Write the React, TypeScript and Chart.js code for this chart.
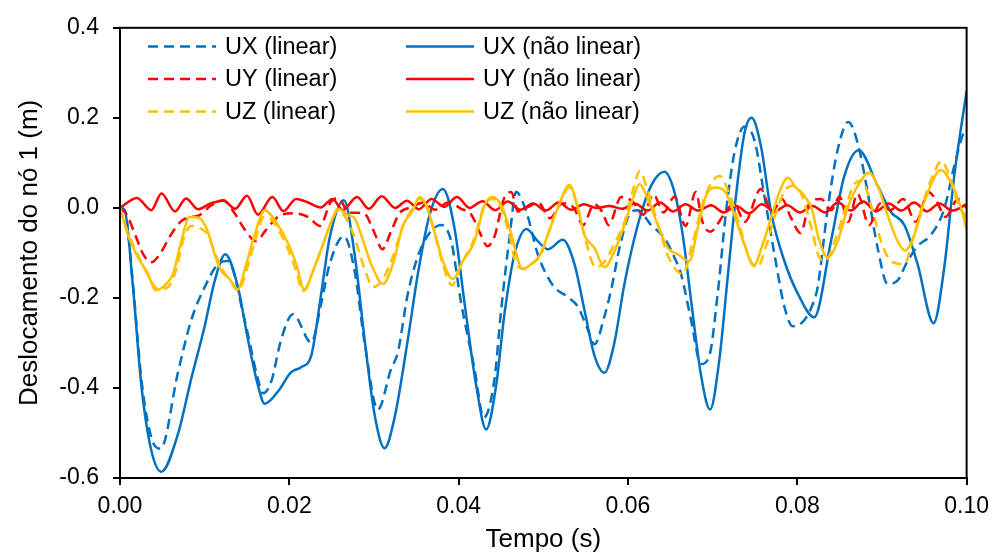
import React, { useEffect, useRef } from 'react';
import { Chart, registerables } from 'chart.js';

Chart.register(...registerables);

// Tempo (s) / deslocamento (m) — UX linear
const uxLinT = [0, 0.00055, 0.00153, 0.00252, 0.0037, 0.0048, 0.00685, 0.00842, 0.01, 0.01157, 0.01275, 0.01472, 0.01629, 0.01688, 0.01786, 0.01904, 0.02043, 0.02259, 0.02377, 0.02476, 0.02645, 0.02771, 0.02889, 0.03046, 0.03203, 0.03282, 0.034, 0.03557, 0.03794, 0.03912, 0.0403, 0.04187, 0.04297, 0.04424, 0.04502, 0.046, 0.04679, 0.048, 0.04935, 0.05112, 0.05289, 0.05407, 0.05525, 0.05604, 0.05722, 0.058, 0.05918, 0.06037, 0.06116, 0.06273, 0.0643, 0.06549, 0.06627, 0.06745, 0.06863, 0.06962, 0.0706, 0.07158, 0.07257, 0.07375, 0.07493, 0.07611, 0.0773, 0.07847, 0.07946, 0.08084, 0.082, 0.08241, 0.08359, 0.08477, 0.08603, 0.08713, 0.08831, 0.08949, 0.09067, 0.09185, 0.09303, 0.09421, 0.09579, 0.09736, 0.09854, 0.0997, 0.1];
const uxLinV = [0, -0.005, -0.17, -0.38, -0.51, -0.535, -0.365, -0.249, -0.176, -0.125, -0.118, -0.249, -0.38, -0.412, -0.386, -0.292, -0.236, -0.299, -0.212, -0.125, -0.063, -0.14, -0.299, -0.448, -0.357, -0.321, -0.19, -0.089, -0.038, -0.074, -0.212, -0.357, -0.466, -0.379, -0.227, -0.067, 0.035, -0.009, -0.103, -0.172, -0.198, -0.219, -0.27, -0.303, -0.241, -0.183, -0.074, -0.009, -0.005, -0.038, -0.067, -0.11, -0.147, -0.249, -0.347, -0.328, -0.19, -0.009, 0.122, 0.18, 0.151, 0.027, -0.103, -0.219, -0.263, -0.249, -0.205, -0.176, -0.002, 0.129, 0.191, 0.144, 0.035, -0.089, -0.169, -0.161, -0.118, -0.085, -0.06, -0.002, 0.093, 0.169, 0.173];

// UX não linear
const uxNlT = [0, 0.00055, 0.00153, 0.00252, 0.0037, 0.00488, 0.00685, 0.00842, 0.01, 0.0112, 0.01243, 0.01393, 0.01511, 0.01629, 0.01708, 0.01865, 0.02022, 0.0214, 0.02259, 0.02377, 0.02476, 0.02645, 0.02771, 0.02889, 0.03007, 0.03125, 0.03243, 0.034, 0.03518, 0.03656, 0.03813, 0.03951, 0.0407, 0.04207, 0.04325, 0.04443, 0.04542, 0.0466, 0.048, 0.04935, 0.05053, 0.0523, 0.05368, 0.05486, 0.05604, 0.05722, 0.0584, 0.05958, 0.06116, 0.06273, 0.0643, 0.06549, 0.06647, 0.06745, 0.06863, 0.0697, 0.0708, 0.07178, 0.07276, 0.07375, 0.0746, 0.07572, 0.0769, 0.07847, 0.08005, 0.082, 0.08398, 0.08556, 0.08725, 0.08949, 0.09106, 0.09264, 0.09421, 0.0961, 0.09736, 0.09854, 0.1];
const uxNlV = [0, -0.005, -0.175, -0.394, -0.539, -0.586, -0.502, -0.379, -0.263, -0.161, -0.103, -0.176, -0.292, -0.394, -0.435, -0.408, -0.365, -0.354, -0.328, -0.19, -0.067, 0.017, -0.103, -0.292, -0.459, -0.534, -0.466, -0.292, -0.147, -0.016, 0.042, -0.045, -0.212, -0.394, -0.492, -0.394, -0.234, -0.103, -0.047, -0.074, -0.092, -0.071, -0.125, -0.227, -0.328, -0.366, -0.299, -0.169, -0.038, 0.049, 0.08, 0.035, -0.06, -0.205, -0.372, -0.448, -0.336, -0.154, 0.027, 0.165, 0.2, 0.136, -0.009, -0.118, -0.19, -0.243, -0.074, 0.071, 0.128, 0.049, -0.009, -0.038, -0.125, -0.256, -0.132, 0.071, 0.26];

// UY linear
const uyLinT = [0, 0.0008, 0.0018, 0.0028, 0.0037, 0.0048, 0.006, 0.0072, 0.008, 0.0094, 0.0108, 0.0122, 0.0134, 0.0148, 0.0161, 0.0172, 0.0188, 0.0205, 0.0222, 0.0236, 0.0249, 0.0258, 0.027, 0.0288, 0.03, 0.031, 0.032, 0.033, 0.0345, 0.0358, 0.0372, 0.0388, 0.0403, 0.0415, 0.0425, 0.0434, 0.0443, 0.0448, 0.0453, 0.0462, 0.047, 0.0482, 0.0494, 0.0508, 0.0522, 0.0536, 0.0547, 0.056, 0.057, 0.0577, 0.0592, 0.0605, 0.0618, 0.063, 0.0642, 0.0655, 0.0668, 0.068, 0.0688, 0.0697, 0.0713, 0.0725, 0.0738, 0.0757, 0.077, 0.0782, 0.0792, 0.0804, 0.0815, 0.0828, 0.084, 0.085, 0.086, 0.0871, 0.0885, 0.0898, 0.091, 0.0925, 0.094, 0.0955, 0.0965, 0.0975, 0.099, 0.1];
const uyLinV = [0, -0.015, -0.06, -0.105, -0.121, -0.1, -0.06, -0.03, -0.022, -0.016, 0.006, 0.017, -0.008, -0.05, -0.074, -0.05, -0.018, -0.012, -0.02, -0.04, 0.013, 0.022, -0.01, -0.012, -0.053, -0.092, -0.053, -0.012, 0.002, 0.012, -0.004, 0.012, -0.002, -0.015, -0.055, -0.085, -0.06, -0.02, 0.018, 0.035, -0.008, 0.002, 0.012, -0.023, 0.01, 0, -0.038, 0.008, -0.01, -0.038, 0.024, 0.015, -0.015, 0.03, -0.01, 0.025, -0.04, 0.035, -0.031, -0.053, -0.016, 0.01, -0.031, 0.042, -0.01, 0.02, -0.02, -0.056, 0.013, 0.02, -0.005, 0.025, -0.031, 0.031, -0.038, 0.01, -0.005, 0.02, -0.031, 0.035, 0.013, -0.02, 0.02, 0];

// UY não linear
const uyNlT = [0, 0.002, 0.0037, 0.0049, 0.0065, 0.0078, 0.0092, 0.0107, 0.0122, 0.0136, 0.015, 0.0163, 0.018, 0.0193, 0.0208, 0.0222, 0.0237, 0.0251, 0.0263, 0.028, 0.0294, 0.0309, 0.0325, 0.0339, 0.0353, 0.0368, 0.0383, 0.0398, 0.0413, 0.0428, 0.0443, 0.0458, 0.0473, 0.0488, 0.0503, 0.0518, 0.0533, 0.0548, 0.0563, 0.0578, 0.0593, 0.0608, 0.0623, 0.0638, 0.0653, 0.0668, 0.0683, 0.0698, 0.0713, 0.0728, 0.0743, 0.0758, 0.0773, 0.0788, 0.0803, 0.0818, 0.0833, 0.0848, 0.0863, 0.0878, 0.0893, 0.0908, 0.0923, 0.0938, 0.0953, 0.0968, 0.0983, 0.1];
const uyNlV = [0, 0.022, -0.005, 0.032, -0.008, 0.021, -0.003, 0.01, 0.016, -0.002, 0.027, -0.015, 0.024, -0.007, 0.02, 0.012, 0.001, 0.02, -0.005, 0.024, -0.002, 0.026, 0, 0.016, -0.003, 0.02, 0.002, 0.024, 0, 0.015, -0.005, 0.014, -0.004, 0.01, -0.006, 0.012, -0.004, 0.008, 0, 0.004, -0.002, 0.01, -0.006, 0.012, -0.008, 0.008, -0.006, 0.006, -0.01, 0.004, -0.012, 0.008, -0.008, 0.006, -0.01, 0.004, -0.01, 0.012, -0.006, 0.014, -0.008, 0.01, -0.006, 0.012, -0.008, 0.01, -0.006, 0.008];

// UZ linear
const uzLinT = [0, 0.00094, 0.00213, 0.00331, 0.0045, 0.0055, 0.0066, 0.0075, 0.0084, 0.0094, 0.0104, 0.0112, 0.0122, 0.0132, 0.014, 0.015, 0.016, 0.017, 0.0178, 0.0186, 0.0198, 0.0208, 0.0216, 0.0226, 0.024, 0.025, 0.0257, 0.0266, 0.0276, 0.0288, 0.0299, 0.031, 0.0322, 0.0334, 0.0346, 0.0354, 0.0362, 0.0372, 0.0382, 0.0392, 0.0403, 0.0418, 0.043, 0.044, 0.045, 0.046, 0.0468, 0.0478, 0.0486, 0.0497, 0.0506, 0.0518, 0.0531, 0.0541, 0.0549, 0.0562, 0.0572, 0.0584, 0.0596, 0.0606, 0.0614, 0.0623, 0.0636, 0.0648, 0.0665, 0.0676, 0.069, 0.0708, 0.072, 0.0732, 0.0743, 0.0753, 0.0763, 0.0775, 0.0786, 0.0795, 0.0805, 0.0816, 0.0826, 0.0833, 0.0845, 0.0857, 0.0866, 0.0876, 0.0888, 0.09, 0.0912, 0.0926, 0.0938, 0.095, 0.0962, 0.097, 0.098, 0.099, 0.1];
const uzLinV = [0, -0.055, -0.105, -0.15, -0.18, -0.178, -0.14, -0.07, -0.04, -0.045, -0.06, -0.1, -0.14, -0.165, -0.183, -0.135, -0.07, -0.02, -0.025, -0.045, -0.09, -0.14, -0.185, -0.15, -0.08, -0.03, -0.005, -0.02, -0.06, -0.13, -0.176, -0.16, -0.11, -0.04, 0, 0.02, 0.005, -0.06, -0.13, -0.172, -0.125, -0.07, 0.005, 0.02, 0, -0.06, -0.125, -0.135, -0.125, -0.105, -0.055, 0.005, 0.045, 0, -0.065, -0.132, -0.12, -0.08, -0.03, 0.04, 0.082, 0.04, -0.04, -0.11, -0.147, -0.08, 0.02, 0.071, 0.03, -0.04, -0.11, -0.132, -0.085, -0.01, 0.04, 0.049, 0.03, -0.04, -0.11, -0.118, -0.07, 0, 0.049, 0.06, 0, -0.08, -0.12, -0.125, -0.06, 0.02, 0.08, 0.104, 0.07, 0.01, -0.023];

// UZ não linear
const uzNlT = [0, 0.00094, 0.00213, 0.00331, 0.00417, 0.00528, 0.00626, 0.00724, 0.00823, 0.0094, 0.01039, 0.01118, 0.01196, 0.01295, 0.01385, 0.01491, 0.0159, 0.01708, 0.01865, 0.01983, 0.02082, 0.0218, 0.02279, 0.02397, 0.02495, 0.02574, 0.02692, 0.02771, 0.02849, 0.02967, 0.03105, 0.03223, 0.03341, 0.03459, 0.03538, 0.03616, 0.03715, 0.03813, 0.03932, 0.0405, 0.04188, 0.04306, 0.04404, 0.04502, 0.04601, 0.04758, 0.04856, 0.0495, 0.05053, 0.05171, 0.05309, 0.05407, 0.05486, 0.05604, 0.05722, 0.0584, 0.05958, 0.06057, 0.06136, 0.06234, 0.06352, 0.0647, 0.06588, 0.06726, 0.06824, 0.06922, 0.07021, 0.07139, 0.07257, 0.07375, 0.07485, 0.07591, 0.07689, 0.07789, 0.07887, 0.07984, 0.08084, 0.08182, 0.08241, 0.08359, 0.08477, 0.08595, 0.08693, 0.08851, 0.08949, 0.09067, 0.09185, 0.09272, 0.09382, 0.095, 0.09697, 0.09815, 0.09933, 0.1];
const uzNlV = [0, -0.06, -0.11, -0.147, -0.183, -0.172, -0.147, -0.074, -0.02, -0.023, -0.053, -0.103, -0.14, -0.158, -0.183, -0.125, -0.06, -0.005, -0.038, -0.078, -0.125, -0.183, -0.14, -0.081, -0.031, -0.002, -0.016, -0.023, -0.06, -0.125, -0.169, -0.125, -0.04, -0.005, 0.024, 0.006, -0.053, -0.118, -0.158, -0.118, -0.074, 0.006, 0.024, 0.006, -0.045, -0.136, -0.125, -0.108, -0.06, 0, 0.051, 0, -0.06, -0.089, -0.132, -0.096, -0.038, 0.02, 0.053, 0.02, -0.038, -0.089, -0.103, -0.118, -0.045, 0.027, 0.045, 0.038, -0.016, -0.081, -0.129, -0.081, -0.023, 0.035, 0.067, 0.045, 0.027, -0.009, -0.06, -0.11, -0.074, 0, 0.042, 0.078, 0.049, -0.016, -0.074, -0.095, -0.06, 0.013, 0.084, 0.056, 0, -0.049];

const BLUE = '#0070C0';
const RED = '#FF0000';
const GOLD = '#FFC000';
const DASH = [10, 6];
const FONT = 'Arial, "Liberation Sans", sans-serif';

const toPoints = (t: number[], v: number[]) => t.map((x, i) => ({ x, y: v[i] }));

const series = [
  { label: 'UX (linear)', t: uxLinT, v: uxLinV, color: BLUE, dashed: true },
  { label: 'UX (não linear)', t: uxNlT, v: uxNlV, color: BLUE, dashed: false },
  { label: 'UY (linear)', t: uyLinT, v: uyLinV, color: RED, dashed: true },
  { label: 'UY (não linear)', t: uyNlT, v: uyNlV, color: RED, dashed: false },
  { label: 'UZ (linear)', t: uzLinT, v: uzLinV, color: GOLD, dashed: true },
  { label: 'UZ (não linear)', t: uzNlT, v: uzNlV, color: GOLD, dashed: false },
];

// Two-column legend drawn inside the plot area
const gridLegend = {
  id: 'gridLegend',
  afterDraw(chart: any) {
    const ctx = chart.ctx;
    const colX = [148, 406];
    const rowY = [46.5, 79, 111.5];
    ctx.save();
    chart.data.datasets.forEach((ds: any, i: number) => {
      const col = i % 2;
      const row = Math.floor(i / 2);
      const x0 = colX[col];
      const y = rowY[row];
      ctx.beginPath();
      ctx.strokeStyle = ds.borderColor;
      ctx.lineWidth = ds.borderWidth;
      ctx.setLineDash(ds.borderDash || []);
      ctx.moveTo(x0, y);
      ctx.lineTo(x0 + 68, y);
      ctx.stroke();
      ctx.setLineDash([]);
      ctx.fillStyle = '#000';
      ctx.font = `23.5px ${FONT}`;
      ctx.textBaseline = 'middle';
      ctx.textAlign = 'left';
      ctx.fillText(ds.label, x0 + 77, y + 1);
    });
    ctx.restore();
  },
};

// Closed frame around the plot area
const frame = {
  id: 'frame',
  afterDraw(chart: any) {
    const { left, top, right, bottom } = chart.chartArea;
    const ctx = chart.ctx;
    ctx.save();
    ctx.strokeStyle = '#000';
    ctx.lineWidth = 2;
    ctx.strokeRect(left, top, right - left, bottom - top);
    ctx.restore();
  },
};

export default function App() {
  const ref = useRef<HTMLCanvasElement | null>(null);

  useEffect(() => {
    document.body.style.margin = '0';
    const canvas = ref.current;
    if (!canvas) return;
    const chart = new Chart(canvas, {
      type: 'line',
      data: {
        datasets: series.map((s, i) => ({
          label: s.label,
          data: toPoints(s.t, s.v),
          borderColor: s.color,
          backgroundColor: s.color,
          borderWidth: 2.5,
          borderDash: s.dashed ? DASH : [],
          pointRadius: 0,
          fill: false,
          cubicInterpolationMode: 'monotone' as const,
          order: series.length - 1 - i,
        })),
      },
      options: {
        animation: false,
        responsive: true,
        maintainAspectRatio: false,
        layout: { padding: { top: 19, right: 30, left: 0, bottom: 0 } },
        plugins: { legend: { display: false }, tooltip: { enabled: false } },
        scales: {
          x: {
            type: 'linear',
            min: 0,
            max: 0.1,
            afterFit: (s: any) => {
              s.height = 78;
            },
            ticks: {
              stepSize: 0.02,
              color: '#000',
              padding: 8,
              font: { family: FONT, size: 23 },
              callback: (v: any) => Number(v).toFixed(2),
            },
            grid: { drawOnChartArea: false, drawTicks: true, tickLength: 7, color: '#000', lineWidth: 2 },
            border: { color: '#000', width: 2 },
            title: {
              display: true,
              text: 'Tempo (s)',
              color: '#000',
              font: { family: FONT, size: 26 },
              padding: { top: 0, bottom: 1 },
            },
          },
          y: {
            type: 'linear',
            min: -0.6,
            max: 0.4,
            afterFit: (s: any) => {
              s.width = 120;
            },
            ticks: {
              stepSize: 0.2,
              color: '#000',
              padding: 14,
              font: { family: FONT, size: 23 },
              callback: (v: any) => {
                const n = Math.abs(Number(v)) < 1e-9 ? 0 : Number(v);
                return n.toFixed(1);
              },
            },
            grid: { drawOnChartArea: false, drawTicks: true, tickLength: 7, color: '#000', lineWidth: 2 },
            border: { color: '#000', width: 2 },
            title: {
              display: true,
              text: 'Deslocamento do nó 1 (m)',
              color: '#000',
              font: { family: FONT, size: 26 },
              padding: { top: 14, bottom: 0 },
            },
          },
        },
      },
      plugins: [frame, gridLegend],
    });
    return () => chart.destroy();
  }, []);

  return (
    <div style={{ position: 'fixed', left: 0, top: 0, width: 997, height: 556, background: '#fff' }}>
      <canvas ref={ref} />
    </div>
  );
}
